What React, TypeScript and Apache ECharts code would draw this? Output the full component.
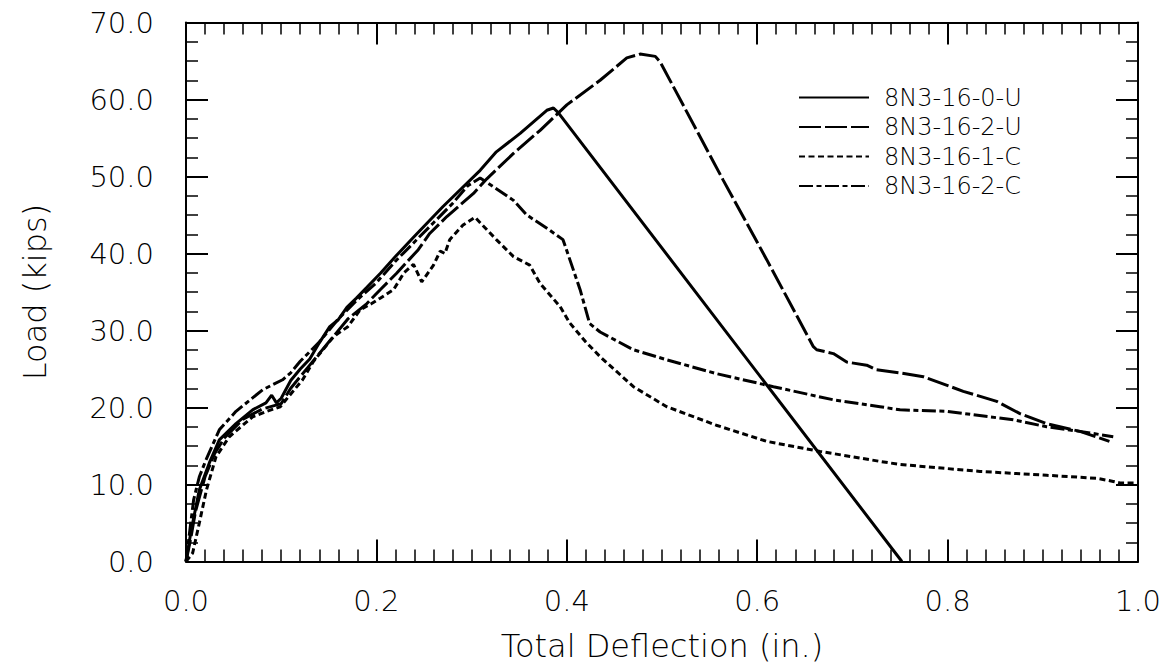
import React, { useEffect, useRef } from "react";
import * as echarts from "echarts";

const seriesNames = ["8N3-16-0-U", "8N3-16-2-U", "8N3-16-1-C", "8N3-16-2-C"];

const s0U: number[][] = [
  [0, 0], [0.004, 3], [0.007, 5], [0.014, 9.3], [0.0245, 12.8], [0.035, 15.8],
  [0.0525, 17.9], [0.07, 19.7], [0.084, 20.6], [0.09, 21.6], [0.095, 20.6],
  [0.1, 21.2], [0.11, 23.5], [0.12, 25], [0.13, 26.3], [0.14, 28.4], [0.151, 30.5],
  [0.16, 31.4], [0.169, 33], [0.179, 34.2], [0.19, 35.6], [0.204, 37.4], [0.22, 39.6],
  [0.239, 42.1], [0.27, 46.1], [0.309, 50.8], [0.326, 53.2], [0.351, 55.6],
  [0.379, 58.6], [0.386, 58.9], [0.391, 58.3], [0.752, 0],
];

const s2U: number[][] = [
  [0, 0], [0.005, 3], [0.01, 6.5], [0.02, 11], [0.03, 14], [0.04, 16], [0.06, 18.5],
  [0.08, 19.8], [0.1, 20.5], [0.11, 22.5], [0.13, 25.5], [0.15, 28.5], [0.17, 31.5],
  [0.19, 33.5], [0.204, 35.3], [0.221, 37.4], [0.244, 40.5], [0.256, 42.6],
  [0.274, 44.8], [0.302, 47.8], [0.316, 49.7], [0.344, 53], [0.372, 56], [0.4, 59.3],
  [0.435, 62.5], [0.463, 65.4], [0.477, 65.9], [0.493, 65.6], [0.498, 64.9],
  [0.5644, 49.5], [0.61, 39.2], [0.659, 27.9], [0.6625, 27.5], [0.68, 27.0],
  [0.694, 25.9], [0.715, 25.5], [0.725, 24.9], [0.75, 24.5], [0.7745, 24.0],
  [0.8165, 22.1], [0.8516, 20.8], [0.876, 19.2], [0.904, 17.9], [0.939, 16.9],
  [0.97, 15.6],
];

const s1C: number[][] = [
  [0, 0], [0.007, 1.1], [0.014, 5], [0.0215, 9.3], [0.0315, 13.6], [0.0455, 16.2],
  [0.07, 18.8], [0.085, 19.5], [0.099, 20.1], [0.105, 21.0], [0.1225, 23.6],
  [0.134, 26.0], [0.155, 29.2], [0.17, 30.5], [0.183, 32.7], [0.195, 33.5],
  [0.204, 34.2], [0.218, 35.3], [0.229, 37.5], [0.239, 38.6], [0.2476, 36.3],
  [0.26, 38.5], [0.267, 40.3], [0.272, 40], [0.277, 41.8], [0.291, 43.7],
  [0.3036, 44.7], [0.326, 41.8], [0.344, 39.6], [0.361, 38.5], [0.372, 36.1],
  [0.393, 33.1], [0.403, 31], [0.42, 28.5], [0.435, 26.6], [0.47, 22.7],
  [0.505, 20.1], [0.557, 17.7], [0.61, 15.6], [0.666, 14.3], [0.729, 13.0],
  [0.75, 12.6], [0.834, 11.7], [0.904, 11.2], [0.957, 10.8], [0.974, 10.4],
  [0.981, 10.2], [0.998, 10.2],
];

const s2C: number[][] = [
  [0, 0], [0.004, 4], [0.008, 8], [0.014, 11], [0.021, 13.2], [0.035, 17.1],
  [0.0525, 19.5], [0.0805, 22.3], [0.1015, 23.6], [0.11, 24.5], [0.12, 26],
  [0.14, 28.5], [0.16, 31.5], [0.18, 34.0], [0.2, 36.2], [0.22, 39], [0.24, 41.5],
  [0.26, 44], [0.28, 46.5], [0.296, 48.8], [0.309, 49.8], [0.325, 48.5],
  [0.344, 46.9], [0.358, 45.0], [0.38, 43.2], [0.396, 41.8], [0.414, 35.3],
  [0.424, 30.9], [0.435, 29.8], [0.47, 27.5], [0.505, 26.2], [0.557, 24.4],
  [0.617, 22.7], [0.68, 21.0], [0.729, 20.1], [0.75, 19.7], [0.799, 19.5],
  [0.869, 18.4], [0.904, 17.5], [0.939, 16.9], [0.974, 16.2],
];

const xTitle = "Total Deflection (in.)";
const yTitle = "Load (kips)";

const FONT = "DejaVu Sans";
const WEIGHT = 300;

export default function App() {
  const ref = useRef<HTMLDivElement>(null);
  useEffect(() => {
    if (!ref.current) return;
    const chart = echarts.init(ref.current, undefined, { renderer: "svg" });
    const tickCommon = {
      axisLine: { show: true, onZero: false, lineStyle: { color: "#000", width: 2 } },
      axisTick: { show: true, inside: true, length: 22, lineStyle: { color: "#000", width: 2 } },
      splitLine: { show: false },
    };
    const lineW = 3;
    const mk = (name: string, data: number[][], type: any) => ({
      name,
      type: "line",
      data,
      symbol: "none",
      showSymbol: false,
      smooth: false,
      lineStyle: { color: "#000", width: lineW, type },
      itemStyle: { color: "#000" },
      xAxisIndex: 0,
      yAxisIndex: 0,
    });
    chart.setOption({
      animation: false,
      backgroundColor: "#fff",
      textStyle: { fontFamily: FONT, color: "#000", fontWeight: WEIGHT },
      grid: { left: 186, right: 34, top: 22.5, bottom: 108.5, containLabel: false },
      legend: {
        show: true,
        orient: "vertical",
        left: 793,
        top: 80.5,
        itemWidth: 70,
        itemHeight: 14,
        itemGap: 5.5,
        itemStyle: { opacity: 0 },
        textStyle: { fontFamily: FONT, fontWeight: WEIGHT, fontSize: 24, color: "#000", lineHeight: 23, padding: [0, 0, 0, 10] },
        data: seriesNames,
      },
      xAxis: [
        {
          type: "value",
          position: "bottom",
          min: 0,
          max: 1,
          interval: 0.2,
          ...tickCommon,
          minorTick: { show: true, splitNumber: 10, length: 12, lineStyle: { color: "#000", width: 1.5 } },
          axisLabel: {
            fontFamily: FONT,
            fontWeight: WEIGHT,
            fontSize: 29,
            color: "#000",
            margin: 25,
            formatter: (v: number) => v.toFixed(1),
          },
          name: xTitle,
          nameLocation: "middle",
          nameGap: 68,
          nameTextStyle: { fontFamily: FONT, fontWeight: WEIGHT, fontSize: 32, color: "#000" },
        },
        {
          type: "value",
          position: "top",
          min: 0,
          max: 1,
          interval: 0.2,
          ...tickCommon,
          minorTick: { show: true, splitNumber: 10, length: 12, lineStyle: { color: "#000", width: 1.5 } },
          axisLabel: { show: false },
        },
      ],
      yAxis: [
        {
          type: "value",
          position: "left",
          min: 0,
          max: 70,
          interval: 10,
          ...tickCommon,
          minorTick: { show: true, splitNumber: 4, length: 12, lineStyle: { color: "#000", width: 1.5 } },
          axisLabel: {
            fontFamily: FONT,
            fontWeight: WEIGHT,
            fontSize: 29,
            color: "#000",
            margin: 32,
            formatter: (v: number) => v.toFixed(1),
          },
          name: yTitle,
          nameLocation: "middle",
          nameGap: 135,
          nameTextStyle: { fontFamily: FONT, fontWeight: WEIGHT, fontSize: 32, color: "#000" },
        },
        {
          type: "value",
          position: "right",
          min: 0,
          max: 70,
          interval: 10,
          ...tickCommon,
          minorTick: { show: true, splitNumber: 4, length: 12, lineStyle: { color: "#000", width: 1.5 } },
          axisLabel: { show: false },
        },
      ],
      series: [
        mk(seriesNames[0], s0U, "solid"),
        mk(seriesNames[1], s2U, [22, 4]),
        mk(seriesNames[2], s1C, [6, 3.5]),
        mk(seriesNames[3], s2C, [14, 3.5, 5, 3.5]),
      ],
    });
    return () => chart.dispose();
  }, []);
  return (
    <div
      ref={ref}
      style={{ position: "fixed", left: 0, top: 0, width: 1172, height: 670, background: "#fff" }}
    />
  );
}
